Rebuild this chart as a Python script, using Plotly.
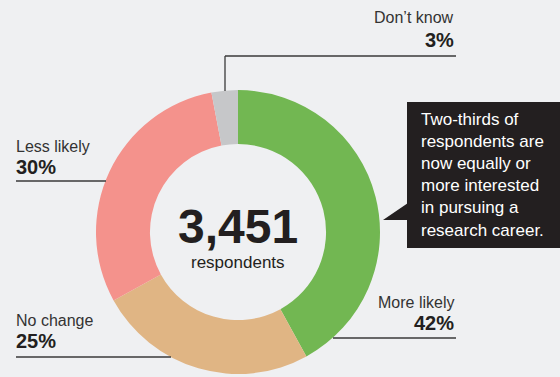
import plotly.graph_objects as go

# Survey breakdown (clockwise from 12 o'clock)
categories = ["More likely", "No change", "Less likely", "Don\u2019t know"]
shares = [42, 25, 30, 3]
slice_colors = ["#72b752", "#e0b584", "#f4928c", "#c6c7c9"]
total_respondents = "3,451"
callout_lines = [
    "Two-thirds of",
    "respondents are",
    "now equally or",
    "more interested",
    "in pursuing a",
    "research career.",
]

W, H = 560, 377
BG = "#eff0f2"
INK = "#231f20"
LABEL = "#333333"
REG = "Liberation Sans, Arial, sans-serif"
BOLD = "Liberation Sans, Arial, sans-serif"


def px(x):
    return x / W


def py(y):
    return 1 - y / H


# donut geometry in pixels
cx, cy, r = 238, 232, 142

fig = go.Figure(
    go.Pie(
        values=shares,
        labels=categories,
        marker=dict(colors=slice_colors, line=dict(width=0)),
        hole=0.62,
        sort=False,
        direction="clockwise",
        rotation=0,
        textinfo="none",
        hoverinfo="label+percent",
        showlegend=False,
        domain=dict(x=[px(cx - r), px(cx + r)], y=[py(cy + r), py(cy - r)]),
    )
)

annotations = []
shapes = []


def add_label(name, value, x, y_name, y_val, anchor):
    annotations.append(dict(x=px(x), y=py(y_name), xref="paper", yref="paper",
                            text=name, showarrow=False, xanchor=anchor, yanchor="middle",
                            font=dict(family=REG, size=16, color=LABEL)))
    annotations.append(dict(x=px(x), y=py(y_val), xref="paper", yref="paper",
                            text=f"<b>{value}%</b>", showarrow=False, xanchor=anchor,
                            yanchor="middle", font=dict(family=BOLD, size=20, color=INK)))


def add_line(x0, y0, x1, y1):
    shapes.append(dict(type="line", xref="paper", yref="paper",
                       x0=px(x0), y0=py(y0), x1=px(x1), y1=py(y1),
                       line=dict(color="#3a3a3a", width=1.3)))


# More likely
add_label(categories[0], shares[0], 456, 302, 323, "right")
add_line(333, 338, 456, 338)
# No change
add_label(categories[1], shares[1], 14, 320, 341, "left")
add_line(16, 357, 171, 357)
# Less likely
add_label(categories[2], shares[2], 14, 146, 167, "left")
add_line(16, 181, 106, 181)
# Don't know
add_label(categories[3], shares[3], 456, 18, 40, "right")
add_line(225, 56, 456, 56)
add_line(225, 56, 225, 91)

# centre figure
annotations.append(dict(x=px(cx), y=py(226), xref="paper", yref="paper",
                        text=f"<b>{total_respondents}</b>", showarrow=False,
                        xanchor="center", yanchor="middle",
                        font=dict(family=BOLD, size=48, color=INK)))
annotations.append(dict(x=px(cx), y=py(262), xref="paper", yref="paper",
                        text="respondents", showarrow=False,
                        xanchor="center", yanchor="middle",
                        font=dict(family=REG, size=17, color=INK)))

# callout box with pointer
shapes.append(dict(type="rect", xref="paper", yref="paper",
                   x0=px(407), x1=px(561), y0=py(248), y1=py(102),
                   fillcolor=INK, line=dict(width=0)))
shapes.append(dict(type="path", xref="paper", yref="paper",
                   path=f"M {px(408)} {py(203)} L {px(383)} {py(220)} L {px(408)} {py(220)} Z",
                   fillcolor=INK, line=dict(width=0)))
annotations.append(dict(x=px(419), y=py(175), xref="paper", yref="paper",
                        text="<br>".join(callout_lines), showarrow=False,
                        xanchor="left", yanchor="middle", align="left",
                        font=dict(family=REG, size=17, color="#ffffff")))

fig.update_layout(
    width=W, height=H,
    margin=dict(l=0, r=0, t=0, b=0),
    paper_bgcolor=BG, plot_bgcolor=BG,
    annotations=annotations, shapes=shapes,
)

fig.write_html("out.html", config={"displayModeBar": False})
